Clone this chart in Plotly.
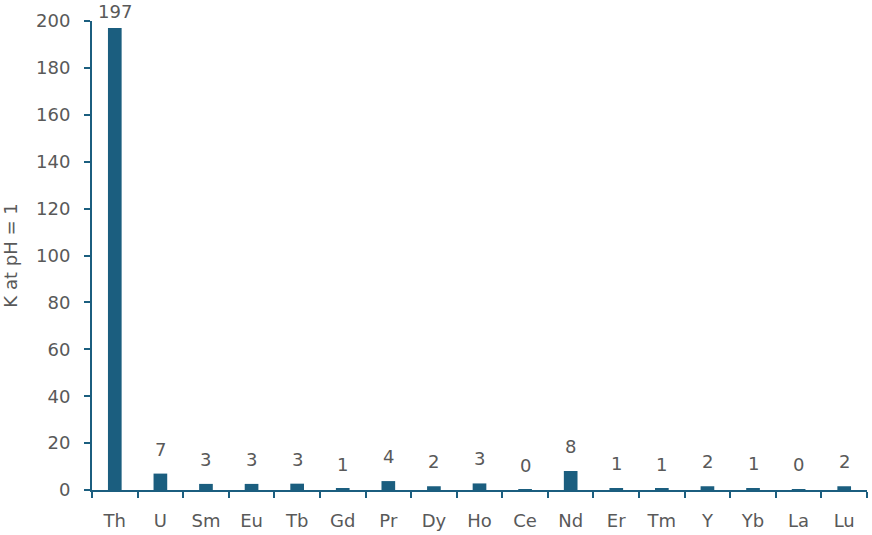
import plotly.graph_objects as go

elements = ["Th", "U", "Sm", "Eu", "Tb", "Gd", "Pr", "Dy", "Ho", "Ce", "Nd", "Er", "Tm", "Y", "Yb", "La", "Lu"]
k_values = [197, 7, 2.6, 2.6, 2.7, 0.6, 3.8, 1.6, 2.8, 0.2, 8.1, 0.7, 0.6, 1.6, 0.7, 0.3, 1.6]
y_ticks = [0, 20, 40, 60, 80, 100, 120, 140, 160, 180, 200]
y_max = 200

bar_color = "#1b5e7f"
axis_color = "#1b5e7f"
text_color = "#595959"
font_family = "DejaVu Sans, sans-serif"

fig = go.Figure(
    go.Bar(
        x=elements,
        y=k_values,
        marker=dict(color=bar_color, line=dict(width=0)),
        width=0.3,
        cliponaxis=False,
    )
)

# data labels above bars (clamped near the top of the plot like the original)
for el, v in zip(elements, k_values):
    fig.add_annotation(
        x=el,
        y=v,
        text=f"{v:.0f}",
        showarrow=False,
        yanchor="bottom",
        yshift=12 if v < 0.9 * y_max else 4,
        font=dict(size=18, color=text_color, family=font_family),
    )

fig.update_layout(
    width=872,
    height=535,
    margin=dict(l=92, r=5, t=21, b=45),
    paper_bgcolor="white",
    plot_bgcolor="white",
    showlegend=False,
    font=dict(family=font_family, size=18, color=text_color),
)

fig.update_xaxes(
    showline=True,
    linecolor=axis_color,
    linewidth=2,
    ticks="outside",
    tickson="boundaries",
    ticklen=6,
    tickwidth=2,
    tickcolor=axis_color,
    showgrid=False,
    automargin=False,
    ticklabelstandoff=13,
    tickfont=dict(size=18, color=text_color),
)

fig.update_yaxes(
    range=[0, y_max],
    tickvals=y_ticks,
    showline=True,
    linecolor=axis_color,
    linewidth=2,
    ticks="outside",
    ticklen=6,
    tickwidth=2,
    tickcolor=axis_color,
    showgrid=False,
    zeroline=False,
    automargin=False,
    ticklabelstandoff=10,
    tickfont=dict(size=18, color=text_color),
    title=dict(text="K at pH = 1", font=dict(size=18, color=text_color), standoff=16),
)

# remove the browser's default page margin so the figure fills the window
fig.write_html(
    "out.html",
    config={"displayModeBar": False},
    post_script="document.body.style.margin='0';",
)
